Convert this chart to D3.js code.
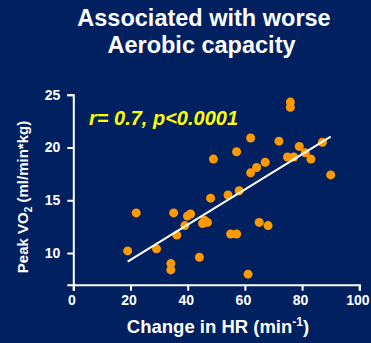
<!DOCTYPE html>
<html>
<head>
<meta charset="utf-8">
<script src="https://cdn.jsdelivr.net/npm/d3@7"></script>
<style>
  html, body { margin: 0; padding: 0; background: #002060; }
  svg { display: block; }
</style>
</head>
<body>
<div id="chart"></div>
<script>
// change in HR (min^-1) for each patient
const hrChange = [19.0, 22.0, 29.1, 35.1, 36.2, 34.1, 34.1, 39.0, 39.9, 41.0,
                  45.2, 45.9, 46.9, 48.0, 44.1, 49.0, 54.1, 58.0, 55.0, 57.1,
                  57.1, 61.1, 62.0, 62.0, 64.1, 65.0, 67.1, 68.1, 71.9, 74.9,
                  77.1, 75.9, 75.9, 79.0, 81.1, 83.1, 87.1, 90.0];
// peak VO2 (ml/min*kg)
const peakVO2 = [10.2, 13.8, 10.4, 13.8, 11.7, 9.0, 8.4, 12.6, 13.5, 13.7,
                 12.8, 13.1, 12.9, 15.2, 9.6, 18.9, 15.5, 15.9, 11.8, 11.8,
                 19.6, 8.0, 17.6, 20.9, 18.1, 12.9, 18.6, 12.6, 20.6, 19.1,
                 19.1, 24.3, 23.8, 20.1, 19.5, 18.9, 20.5, 17.4];
// regression line end points
const fitX = [19, 90];
const fitY = [9.18, 21.02];

const xTicks = [0, 20, 40, 60, 80, 100];
const yTicks = [10, 15, 20, 25];

const width = 371, height = 343;
const svg = d3.select("#chart").append("svg")
    .attr("width", width)
    .attr("height", height)
    .style("font-family", "'Liberation Sans', Arial, sans-serif");

svg.append("rect")
    .attr("width", width)
    .attr("height", height)
    .attr("fill", "#002060");

const x = d3.scaleLinear().domain([0, 100]).range([73.3, 359.3]);
const y = d3.scaleLinear().domain([7, 25]).range([284.7, 94.7]);

// title
const title = svg.append("text")
    .attr("text-anchor", "middle")
    .attr("fill", "white")
    .style("font-size", "23.5px")
    .style("font-weight", "bold");
title.append("tspan").attr("x", 204).attr("y", 26).text("Associated with worse");
title.append("tspan").attr("x", 201.5).attr("y", 53).text("Aerobic capacity");

// axes
const xAxis = svg.append("g")
    .attr("transform", `translate(0,${y(7)})`)
    .call(d3.axisBottom(x).tickValues(xTicks).tickSizeOuter(0).tickSize(6).tickPadding(4));
const yAxis = svg.append("g")
    .attr("transform", `translate(${x(0)},0)`)
    .call(d3.axisLeft(y).tickValues(yTicks).tickSizeOuter(0).tickSize(6).tickPadding(7));

[xAxis, yAxis].forEach(function (g) {
    g.selectAll("path, line").attr("stroke", "white").attr("stroke-width", 2);
    g.selectAll("text")
        .attr("fill", "white")
        .style("font-size", "14px")
        .style("font-weight", "bold")
        .style("font-family", "'Liberation Sans', Arial, sans-serif");
});
xAxis.selectAll(".tick text").attr("dx", -2);

// axis titles
const xTitle = svg.append("text")
    .attr("x", 218)
    .attr("y", 333)
    .attr("text-anchor", "middle")
    .attr("fill", "white")
    .style("font-size", "18.5px")
    .style("font-weight", "bold");
xTitle.append("tspan").text("Change in HR (min");
xTitle.append("tspan").attr("dy", -7).style("font-size", "12px").text("-1");
xTitle.append("tspan").attr("dy", 7).text(")");

const yTitle = svg.append("text")
    .attr("transform", "translate(28,197)rotate(-90)")
    .attr("text-anchor", "middle")
    .attr("fill", "white")
    .style("font-size", "15px")
    .style("font-weight", "bold");
yTitle.append("tspan").text("Peak VO");
yTitle.append("tspan").attr("dy", 4).style("font-size", "10px").text("2");
yTitle.append("tspan").attr("dy", -4).text(" (ml/min*kg)");

// points
const points = hrChange.map((d, i) => [d, peakVO2[i]]);
svg.append("g")
    .selectAll("circle")
    .data(points)
    .enter()
    .append("circle")
    .attr("cx", d => x(d[0]))
    .attr("cy", d => y(d[1]))
    .attr("r", 4.5)
    .attr("fill", "#FF9900");

// regression line
svg.append("line")
    .attr("x1", x(fitX[0]))
    .attr("y1", y(fitY[0]))
    .attr("x2", x(fitX[1]))
    .attr("y2", y(fitY[1]))
    .attr("stroke", "white")
    .attr("stroke-width", 2);

// correlation label
svg.append("text")
    .attr("x", 89)
    .attr("y", 125)
    .attr("fill", "#FFFF00")
    .style("font-size", "20px")
    .style("font-weight", "bold")
    .style("font-style", "italic")
    .text("r= 0.7, p<0.0001");
</script>
</body>
</html>
